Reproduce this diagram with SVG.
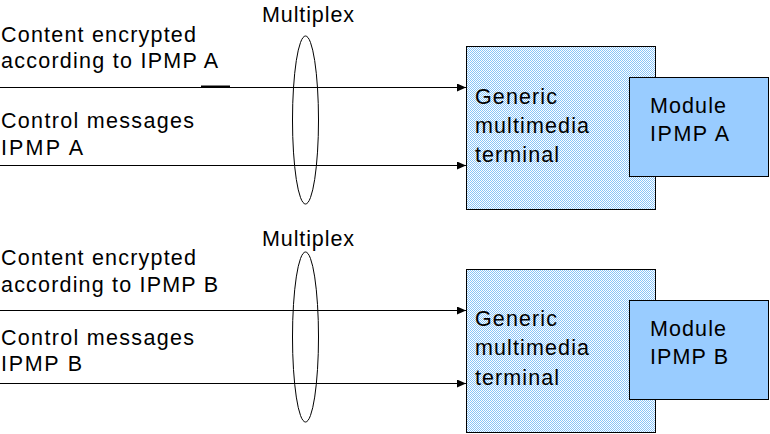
<svg xmlns="http://www.w3.org/2000/svg" width="770" height="434" viewBox="0 0 770 434">
<defs>
<style>
text{font-family:"Liberation Sans",Arial,sans-serif;font-size:21.5px;fill:#000}
.ln{stroke:#000;stroke-width:1;fill:none}
.term{fill:url(#chk);stroke:#000;stroke-width:1}
.mod{fill:#99ccff;stroke:#000;stroke-width:1}
.ell{fill:none;stroke:#000;stroke-width:1}
</style>
<pattern id="chk" width="2" height="2" patternUnits="userSpaceOnUse">
<rect width="2" height="2" fill="#ffffff"/>
<rect width="1" height="1" fill="#88c4f8"/>
<rect x="1" y="1" width="1" height="1" fill="#88c4f8"/>
</pattern>
<marker id="arr" markerWidth="9" markerHeight="8" refX="9" refY="4" orient="auto" markerUnits="userSpaceOnUse">
<path d="M0,0 L9,4 L0,8 Z" fill="#000"/>
</marker>
</defs>
<g id="connectors">
<line class="ln" x1="0" y1="87.5" x2="466" y2="87.5" marker-end="url(#arr)"/>
<line class="ln" x1="0" y1="165.5" x2="466" y2="165.5" marker-end="url(#arr)"/>
<line x1="201" y1="86.5" x2="230" y2="86.5" stroke="#000" stroke-width="2"/>
<line class="ln" x1="0" y1="310.5" x2="466" y2="310.5" marker-end="url(#arr)"/>
<line class="ln" x1="0" y1="383.5" x2="466" y2="383.5" marker-end="url(#arr)"/>
</g>
<g id="labels-top">
<text x="1" y="42" textLength="195" lengthAdjust="spacing">Content encrypted</text>
<text x="1" y="68" textLength="217" lengthAdjust="spacing">according to IPMP A</text>
<text x="1" y="128" textLength="193" lengthAdjust="spacing">Control messages</text>
<text x="1" y="155" textLength="82" lengthAdjust="spacing">IPMP A</text>
</g>
<g id="multiplex-top">
<ellipse class="ell" cx="305.5" cy="120" rx="13" ry="84"/>
<text x="262" y="22" textLength="92" lengthAdjust="spacing">Multiplex</text>
</g>
<g id="terminal-a">
<rect class="term" x="466.5" y="46.5" width="189" height="163"/>
<text x="475" y="104" textLength="82" lengthAdjust="spacing">Generic</text>
<text x="475" y="133" textLength="114" lengthAdjust="spacing">multimedia</text>
<text x="475" y="162" textLength="84" lengthAdjust="spacing">terminal</text>
</g>
<g id="module-a">
<rect class="mod" x="629.5" y="77.5" width="139" height="99"/>
<text x="650" y="113" textLength="76" lengthAdjust="spacing">Module</text>
<text x="650" y="141" textLength="79" lengthAdjust="spacing">IPMP A</text>
</g>
<g id="labels-bottom">
<text x="1" y="265" textLength="195" lengthAdjust="spacing">Content encrypted</text>
<text x="1" y="292" textLength="217" lengthAdjust="spacing">according to IPMP B</text>
<text x="1" y="345" textLength="193" lengthAdjust="spacing">Control messages</text>
<text x="1" y="371" textLength="81" lengthAdjust="spacing">IPMP B</text>
</g>
<g id="multiplex-bottom">
<ellipse class="ell" cx="305.5" cy="337" rx="13" ry="85"/>
<text x="262" y="246" textLength="92" lengthAdjust="spacing">Multiplex</text>
</g>
<g id="terminal-b">
<rect class="term" x="466.5" y="269.5" width="189" height="163"/>
<text x="475" y="326" textLength="82" lengthAdjust="spacing">Generic</text>
<text x="475" y="355" textLength="114" lengthAdjust="spacing">multimedia</text>
<text x="475" y="385" textLength="84" lengthAdjust="spacing">terminal</text>
</g>
<g id="module-b">
<rect class="mod" x="629.5" y="300.5" width="139" height="99"/>
<text x="650" y="336" textLength="76" lengthAdjust="spacing">Module</text>
<text x="650" y="364" textLength="78" lengthAdjust="spacing">IPMP B</text>
</g>
</svg>
